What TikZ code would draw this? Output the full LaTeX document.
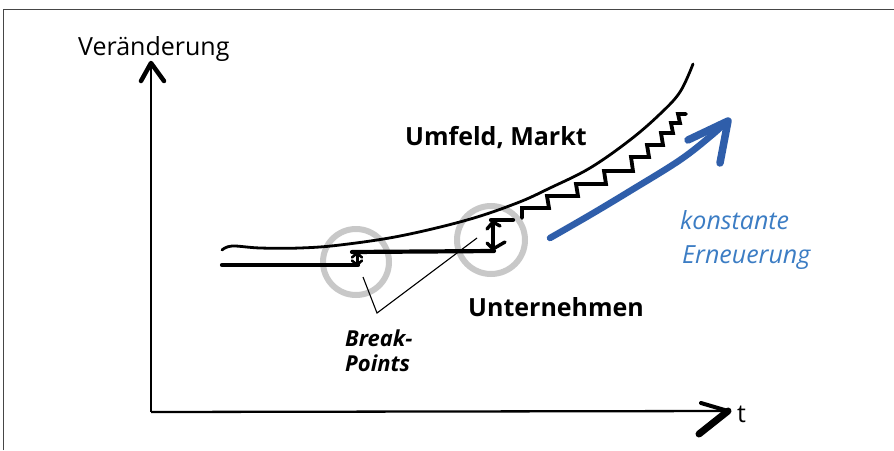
\documentclass[tikz,border=0pt]{standalone}
\usepackage{fontspec}
\setmainfont{Open Sans}
\definecolor{ringgray}{RGB}{200,200,200}
\definecolor{arrowblue}{RGB}{47,94,170}
\definecolor{textblue}{RGB}{60,125,196}
\definecolor{framegray}{RGB}{70,70,70}
\tikzset{
  lbl/.style={inner sep=0pt, anchor=base west},
  axisline/.style={draw=black, line width=2.6pt},
  chevron/.style={draw=black, line width=4.5pt, line cap=round, line join=round},
  sketch/.style={draw=black, line width=4.2pt, line cap=round, line join=round},
  headline/.style={draw=black, line width=3pt, line cap=round, line join=round},
  ring/.style={draw=ringgray, line width=6pt},
  pointer/.style={draw=black, line width=1.1pt},
}
\begin{document}
\begin{tikzpicture}[x=1pt,y=-1pt]
\useasboundingbox (0,0) rectangle (894,450);
\fill[white] (0,0) rectangle (894,450);
% frame
\draw[framegray, line width=1.8pt] (3.5,450) -- (3.5,9.5) -- (894,9.5);

% axes
\coordinate (O) at (151,412);
\coordinate (ytip) at (151,63);
\coordinate (xtip) at (728,411);
\coordinate (yw1) at (141,81);
\coordinate (yw2) at (164,81);
\coordinate (xw1) at (701,403);
\coordinate (xw2) at (699,434);
\draw[axisline] (O) -- (ytip);
\draw[axisline, line width=2.3pt] (O) -- (xtip);
\draw[chevron] (yw1) -- (ytip) -- (yw2);
\draw[chevron, line width=4pt] (xw1) -- (xtip);
\draw[chevron, line width=7pt] (xtip) -- (xw2);

\node[lbl, font=\fontsize{25}{30}\selectfont] (yl) at (78,55) {Veränderung};
\node[lbl, font=\fontsize{25}{30}\selectfont] (xl) at (737,422) {t};

% rings
\node[ring, circle, minimum size=66pt, inner sep=0pt] (r1) at (356,262) {};
\node[ring, circle, minimum size=68pt, inner sep=0pt] (r2) at (491,240) {};

% Umfeld curve
\draw[black, line width=2.8pt, line cap=round] plot[smooth, tension=0.6] coordinates {
 (222,250) (232,246) (260,248) (300,248) (340,245) (400,236) (467,220)
 (517,203) (550,188) (590,168) (630,140) (660,114) (680,92) (693,64)};

% Unternehmen
\coordinate (a1) at (222,265);
\coordinate (a2) at (358,265);
\coordinate (b1) at (352,252);
\coordinate (b2) at (494,251);
\coordinate (c1) at (491,220);
\coordinate (c2) at (513,220);
\draw[sketch] (a1) -- (a2);
\draw[sketch] (b1) -- (b2);
\draw[sketch] (c1) -- (c2);
% small break-point arrow
\coordinate (s1) at (357,265);
\coordinate (s2) at (357,253);
\draw[headline] (s1) -- (s2);
\draw[headline, line width=2.6pt] (352,257.5) -- (s2) -- (362,257.5);
\draw[headline, line width=2.6pt] (352,260.5) -- (s1) -- (362,260.5);
% large break-point arrow
\coordinate (t1) at (493,249);
\coordinate (t2) at (493,222);
\draw[headline, line width=3.4pt] (t1) -- (t2);
\draw[headline, line width=3.4pt] (487,229) -- (t2) -- (500,226);
\draw[headline, line width=3.4pt] (487,243) -- (t1) -- (505,242);

% staircase
\draw[sketch, line width=3.8pt, line join=miter] (522,218) -- (522,208) -- (549,208)
  -- (547,196) -- (578,196)
  -- (576,184) -- (606,184)
  -- (604,171) -- (633,171)
  -- (631,157) -- (649,157)
  -- (647,145) -- (663,145)
  -- (661,133) -- (673,133)
  -- (671,123) -- (680,123)
  -- (678,114) -- (686,114);

% blue arrow
\draw[arrowblue, line width=6.5pt, line cap=round] plot[smooth, tension=0.6] coordinates {
 (550,238) (590,215) (630,191) (680,160) (712,135) (726,122)};
\draw[arrowblue, line width=7.5pt, line cap=round, line join=round] (688,140) -- (728,121) -- (720,163);

% labels
\node[lbl, font=\bfseries\fontsize{25}{30}\selectfont] (um) at (405,145) {Umfeld, Markt};
\node[lbl, font=\bfseries\fontsize{25}{30}\selectfont] (un) at (468,316) {Unternehmen};
\node[lbl, font=\itshape\fontsize{25}{30}\selectfont, text=textblue] (k1) at (680,229) {konstante};
\node[lbl, font=\itshape\fontsize{25}{30}\selectfont, text=textblue] (k2) at (682,263) {Erneuerung};
\node[lbl, font=\bfseries\itshape\fontsize{22}{26}\selectfont] (bp1) at (345,346) {Break-};
\node[lbl, font=\bfseries\itshape\fontsize{22}{26}\selectfont] (bp2) at (345,371) {Points};

% pointers
\coordinate (pv) at (377,313);
\coordinate (p1) at (363,277);
\coordinate (p2) at (477,238);
\draw[pointer] (p1) -- (pv) -- (p2);
\end{tikzpicture}
\end{document}
